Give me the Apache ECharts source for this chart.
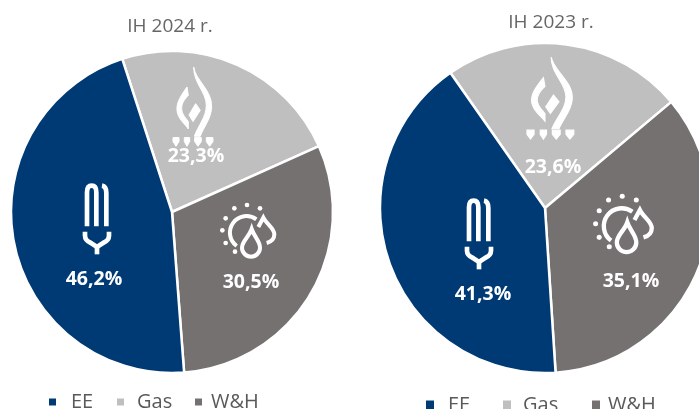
<!DOCTYPE html>
<html><head><meta charset="utf-8">
<style>html,body{margin:0;padding:0;background:#fff}#c{width:699px;height:409px}</style>
<script src="https://cdn.jsdelivr.net/npm/echarts@6/dist/echarts.min.js"></script></head>
<body><div id="c"></div>
<script>
const categories = ['Gas', 'W&H', 'EE'];
const values2024 = [23.3, 30.5, 46.2];
const values2023 = [23.6, 35.1, 41.3];
const titles = ['IH 2024 r.', 'IH 2023 r.'];
const colors = { 'Gas': '#BFBFBF', 'W&H': '#767171', 'EE': '#003A75' };
const fmt = v => v.toFixed(1).replace('.', ',') + '%';

const labelSpots = [
  { 'Gas': [196, 156], 'W&H': [251, 282], 'EE': [94, 279] },
  { 'Gas': [553, 167], 'W&H': [631, 281], 'EE': [483, 294] }
];

function pie(values, center, radius, start, idx) {
  return {
    type: 'pie', center, radius, startAngle: start, clockwise: true, silent: true, animation: false,
    data: categories.map((n, i) => ({ name: n, value: values[i], itemStyle: { color: colors[n] } })),
    itemStyle: { borderColor: '#fff', borderWidth: 2.5 },
    label: { position: 'inside', formatter: p => fmt(p.value), color: '#fff',
      fontFamily: 'Open Sans', fontWeight: 700, fontSize: 19.5 },
    labelLine: { show: false },
    labelLayout: p => {
      const s = labelSpots[idx][categories[p.dataIndex]];
      return { x: s[0], y: s[1], align: 'center', verticalAlign: 'middle' };
    }
  };
}

function legendItem(name, left, top, w, h, gap) {
  return { left, top, padding: 0, data: [name], selectedMode: false, itemWidth: w, itemHeight: h, icon: 'rect', itemGap: 0,
    textStyle: { color: '#595959', fontFamily: 'Open Sans', fontSize: 20, padding: [0, 0, 0, gap] } };
}

const LAMP = [
  'M12 130 V28 Q12 8 26 8 Q40 8 40 28 V130',
  'M57 8 Q70 10 70 30 V130',
  'M6 146 V158 Q6 172 24 180 L42 192 L60 180 Q78 172 78 158 V146',
  'M42 190 V214'
];
const FLAME = [
  'M62 0 C68 40 118 70 116 120 C115 155 92 180 82 208 L64 208 C76 175 100 150 100 115 C100 75 62 50 62 0 Z',
  'M42 60 C25 85 10 105 12 130 C14 155 35 170 46 186 L46 164 C36 150 26 140 26 125 C26 105 38 95 46 85 Z',
  'M68 110 L82 130 L60 164 L48 144 Z',
  'M0 212 H18 V224 L9 238 L0 224 Z', 'M34 212 H50 V224 L42 238 L34 224 Z',
  'M65 212 H85 V224 L75 238 L65 224 Z', 'M100 212 H120 V224 L110 238 L100 224 Z'
];
const SUN_LINES = [
  'M53 135 A48 48 0 0 1 112 55',
  'M98 84 C90 108 69 120 69 140 A27 27 0 0 0 123 140 C123 120 106 108 98 84 Z',
  'M118 78 L133 50 C143 70 166 82 166 100 C166 112 158 122 143 126'
];
const SUN_DOTS = [[46,22],[84,12],[123,22],[20,52],[10,88],[20,126],[48,152]];

function strokes(list, w) {
  return list.map(p => ({ type: 'path', shape: { pathData: p },
    style: { fill: null, stroke: '#fff', lineWidth: w } }));
}
const icons = [
  { kind: 'lamp', x: 83, y: 183, sx: 1/3, sy: 1/3 },
  { kind: 'lamp', x: 465, y: 198, sx: 1/3, sy: 1/3 },
  { kind: 'flame', x: 173, y: 67, sx: 0.333, sy: 0.333 },
  { kind: 'flame', x: 527, y: 57, sx: 0.39, sy: 0.345 },
  { kind: 'sun', x: 219, y: 201, sx: 1/3, sy: 1/3 },
  { kind: 'sun', x: 592, y: 192, sx: 0.36, sy: 0.36 }
];
function renderIcon(params) {
  const ic = icons[params.dataIndex];
  let children;
  if (ic.kind === 'lamp') children = strokes(LAMP, 14);
  else if (ic.kind === 'flame') children = FLAME.map(p => ({ type: 'path',
    shape: { pathData: p }, style: { fill: '#fff', stroke: '#fff', lineWidth: 3 } }));
  else children = strokes(SUN_LINES, 12).concat(SUN_DOTS.map(d => ({ type: 'circle',
    shape: { cx: d[0], cy: d[1], r: 7 }, style: { fill: '#fff' } })));
  return { type: 'group', x: ic.x, y: ic.y, scaleX: ic.sx, scaleY: ic.sy, children };
}

const chart = echarts.init(document.getElementById('c'), null, { renderer: 'canvas' });
const titleStyle = { color: '#666', fontFamily: 'Open Sans', fontWeight: 400, fontSize: 19 };
chart.setOption({
  animation: false,
  title: [
    { text: titles[0], left: 170, top: 17, padding: 0, textAlign: 'center', textStyle: titleStyle },
    { text: titles[1], left: 551, top: 13, padding: 0, textAlign: 'center', textStyle: titleStyle }
  ],
  legend: [
    legendItem('EE', 47, 392, 9, 9, 9),
    legendItem('Gas', 115, 392, 9, 9, 7),
    legendItem('W&H', 193, 392, 9, 9, 3),
    legendItem('EE', 424, 395, 10, 11, 8),
    legendItem('Gas', 501, 395, 10, 11, 6),
    legendItem('W&H', 590, 395, 10, 11, 2)
  ],
  series: [
    pie(values2024, [172, 212], 161, 108, 0),
    pie(values2023, [545, 208], 165, 125, 1),
    { type: 'custom', coordinateSystem: 'none', silent: true, z: 5, clip: false,
      data: icons.map((_, i) => i), renderItem: renderIcon }
  ]
});
</script></body></html>
